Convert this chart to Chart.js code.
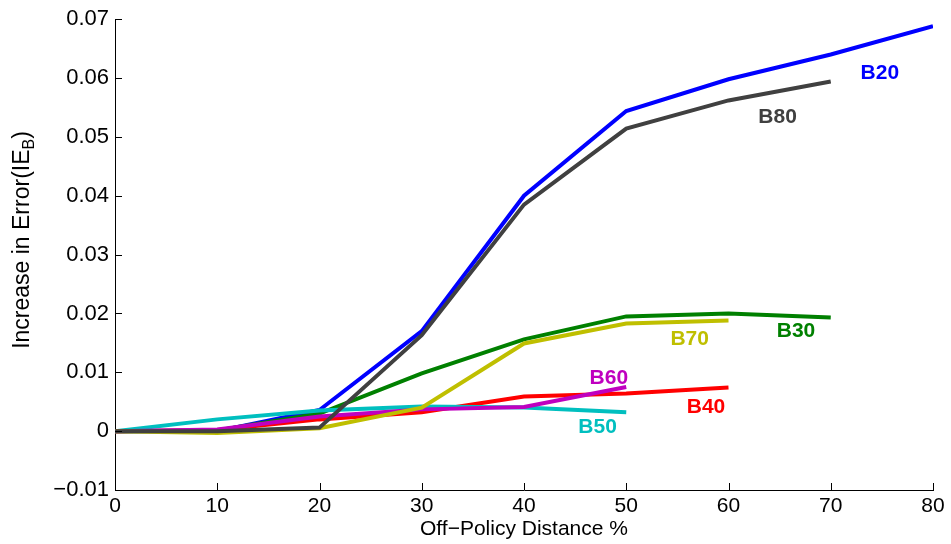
<!DOCTYPE html>
<html>
<head>
<meta charset="utf-8">
<script src="https://cdn.jsdelivr.net/npm/chart.js@4"></script>
<style>
  html, body { margin: 0; padding: 0; background: #fff; }
  #wrap { width: 951px; height: 544px; }
</style>
</head>
<body>
<div id="wrap"><canvas id="chart" width="951" height="544"></canvas></div>
<script>
// Off-policy distance (%)
const distances = [0, 10, 20, 30, 40, 50, 60, 70, 80];

// Increase in error per batch setting
const b20 = [0, 0.0000, 0.0036, 0.0170, 0.0400, 0.0544, 0.0598, 0.0640, 0.0688];
const b30 = [0, 0.0001, 0.0030, 0.0098, 0.0156, 0.0195, 0.0200, 0.0193];
const b40 = [0, 0.0002, 0.0020, 0.0032, 0.0059, 0.0064, 0.0074];
const b50 = [0, 0.0020, 0.0035, 0.0042, 0.0040, 0.0032];
const b60 = [0, 0.0003, 0.0025, 0.0037, 0.0041, 0.0075];
const b70 = [0, -0.0003, 0.0005, 0.0040, 0.0149, 0.0183, 0.0188];
const b80 = [0, 0.0000, 0.0006, 0.0163, 0.0385, 0.0514, 0.0562, 0.0594];

const seriesNames = ['B20', 'B30', 'B40', 'B50', 'B60', 'B70', 'B80'];
const seriesValues = [b20, b30, b40, b50, b60, b70, b80];
const seriesColors = ['#0000ff', '#008000', '#ff0000', '#00bfbf', '#bf00bf', '#bfbf00', '#404040'];

// where each curve's name is written (data coordinates)
const labelX = [74.8, 66.6, 57.8, 47.2, 48.3, 56.2, 64.8];
const labelY = [0.0608, 0.0169, 0.0041, 0.0007, 0.0090, 0.0156, 0.0534];

const yTicks = [-0.01, 0, 0.01, 0.02, 0.03, 0.04, 0.05, 0.06, 0.07];

const FONT = '"Liberation Sans", Arial, sans-serif';

function toPoints(vals) {
    return vals.map((v, i) => ({ x: distances[i], y: v }));
}

// inward tick marks, curve labels and the y title with its subscript
const decorations = {
    id: 'decorations',
    afterDraw(chart) {
        const ctx = chart.ctx;
        const xs = chart.scales.x, ys = chart.scales.y;
        const area = chart.chartArea;
        ctx.save();
        ctx.strokeStyle = '#000';
        ctx.lineWidth = 1;
        ctx.beginPath();
        distances.forEach(d => {
            const px = Math.round(xs.getPixelForValue(d)) + 0.5;
            ctx.moveTo(px, area.bottom);
            ctx.lineTo(px, area.bottom - 7);
        });
        yTicks.forEach(t => {
            const py = Math.round(ys.getPixelForValue(t)) + 0.5;
            ctx.moveTo(area.left, py);
            ctx.lineTo(area.left + 7, py);
        });
        ctx.stroke();

        ctx.font = 'bold 21px ' + FONT;
        ctx.textAlign = 'center';
        ctx.textBaseline = 'middle';
        seriesNames.forEach((name, i) => {
            ctx.fillStyle = seriesColors[i];
            ctx.fillText(name, xs.getPixelForValue(labelX[i]), ys.getPixelForValue(labelY[i]));
        });

        // y axis title: Increase in Error(IE_B)
        ctx.translate(23, 240);
        ctx.rotate(-Math.PI / 2);
        ctx.fillStyle = '#000';
        ctx.textBaseline = 'middle';
        ctx.textAlign = 'left';
        const main = 'Increase in Error(IE';
        const sub = 'B';
        const close = ')';
        ctx.font = '23px ' + FONT;
        const wMain = ctx.measureText(main).width;
        const wClose = ctx.measureText(close).width;
        ctx.font = '16px ' + FONT;
        const wSub = ctx.measureText(sub).width;
        const x0 = -(wMain + wSub + wClose) / 2;
        ctx.font = '23px ' + FONT;
        ctx.fillText(main, x0, 0);
        ctx.font = '16px ' + FONT;
        ctx.fillText(sub, x0 + wMain, 7);
        ctx.font = '23px ' + FONT;
        ctx.fillText(close, x0 + wMain + wSub, 0);
        ctx.restore();
    }
};

window.onload = () => {
    const ctx = document.getElementById('chart').getContext('2d');
    new Chart(ctx, {
        type: 'line',
        data: {
            datasets: seriesNames.map((name, i) => ({
                label: name,
                data: toPoints(seriesValues[i]),
                borderColor: seriesColors[i],
                backgroundColor: seriesColors[i],
                borderWidth: 4,
                pointRadius: 0,
                tension: 0,
                fill: false,
                order: seriesNames.length - i
            }))
        },
        options: {
            responsive: false,
            animation: false,
            devicePixelRatio: 1,
            layout: { padding: { top: 18, right: 18, left: 0, bottom: 0 } },
            plugins: {
                legend: { display: false },
                tooltip: { enabled: false }
            },
            scales: {
                x: {
                    type: 'linear',
                    min: 0,
                    max: 80,
                    afterBuildTicks: s => { s.ticks = distances.map(v => ({ value: v })); },
                    afterFit: s => { s.height = 54; },
                    grid: { display: false, drawTicks: false },
                    border: { display: true, color: '#000', width: 1 },
                    ticks: {
                        color: '#000',
                        font: { family: FONT, size: 21 },
                        padding: 4,
                        maxRotation: 0,
                        callback: v => String(v)
                    },
                    title: {
                        display: true,
                        text: 'Off\u2212Policy Distance %',
                        color: '#000',
                        font: { family: FONT, size: 21 },
                        padding: { top: 0, bottom: 2 }
                    }
                },
                y: {
                    type: 'linear',
                    min: -0.01,
                    max: 0.07,
                    afterBuildTicks: s => { s.ticks = yTicks.map(v => ({ value: v })); },
                    afterFit: s => { s.width = 115; },
                    grid: { display: false, drawTicks: false },
                    border: { display: true, color: '#000', width: 1 },
                    ticks: {
                        color: '#000',
                        font: { family: FONT, size: 22 },
                        padding: 6,
                        callback: v => {
                            const r = Math.round(v * 100) / 100;
                            if (r === 0) return '0';
                            return r < 0 ? '\u2212' + Math.abs(r).toFixed(2) : r.toFixed(2);
                        }
                    }
                }
            }
        },
        plugins: [decorations]
    });
};
</script>
</body>
</html>
